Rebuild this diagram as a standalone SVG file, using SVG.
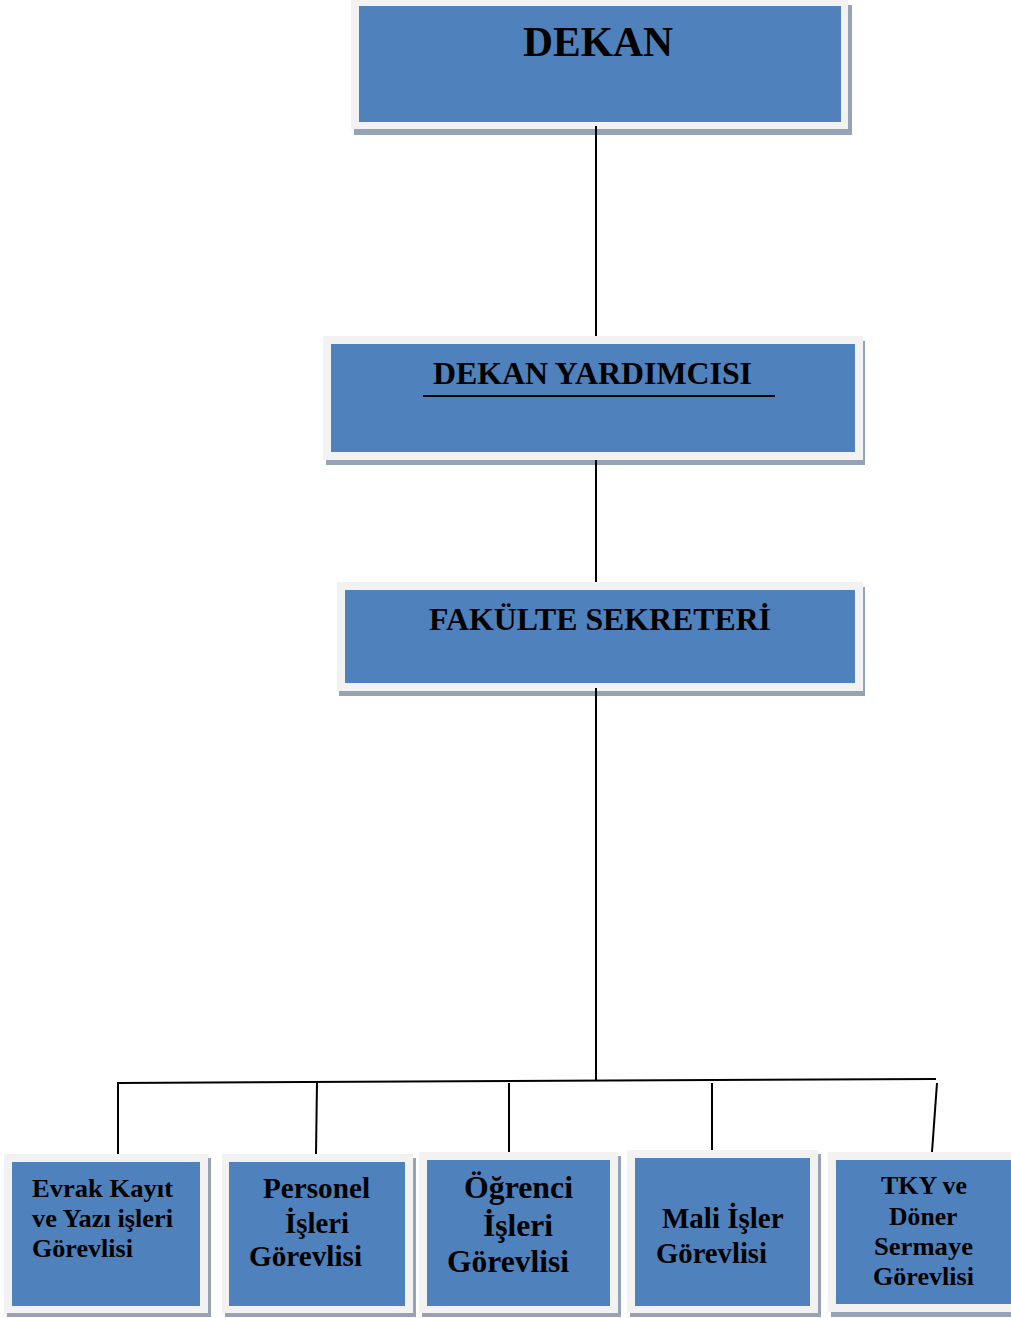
<svg xmlns="http://www.w3.org/2000/svg" width="1011" height="1318" viewBox="0 0 1011 1318">
<style>
.sh{fill:#96a2b6}
.fr{fill:#f2f2f2}
.bl{fill:#4f81bd}
.t{font-family:"Liberation Serif","Times New Roman",serif;font-weight:bold;fill:#000}
.ln{stroke:#000;stroke-width:2;fill:none}
</style>
<rect width="1011" height="1318" fill="#fff"/>
<g id="dekan">
<rect class="sh" x="354" y="5" width="498" height="130"/>
<rect class="fr" x="351" y="0" width="497" height="129"/>
<rect class="bl" x="359" y="6" width="482" height="116"/>
<text class="t" x="523" y="56" font-size="42" textLength="150" lengthAdjust="spacingAndGlyphs">DEKAN</text>
</g>
<g id="dekan-yardimcisi">
<rect class="sh" x="326" y="341" width="539" height="124"/>
<rect class="fr" x="323" y="336" width="540" height="124"/>
<rect class="bl" x="331" y="344" width="524" height="108"/>
<text class="t" x="433" y="384" font-size="32" textLength="319" lengthAdjust="spacingAndGlyphs">DEKAN YARDIMCISI</text>
<line x1="423" y1="396" x2="775" y2="396" stroke="#000" stroke-width="2"/>
</g>
<g id="fakulte-sekreteri">
<rect class="sh" x="339" y="587" width="526" height="109"/>
<rect class="fr" x="337" y="582" width="526" height="109"/>
<rect class="bl" x="345" y="590" width="510" height="93"/>
<text class="t" x="429" y="630" font-size="32" textLength="342" lengthAdjust="spacingAndGlyphs">FAKÜLTE SEKRETERİ</text>
</g>
<g id="evrak">
<rect class="sh" x="7" y="1158" width="204" height="159"/>
<rect class="fr" x="4" y="1154" width="204" height="159"/>
<rect class="bl" x="12" y="1162" width="188" height="144"/>
<text class="t" font-size="26">
<tspan x="32" y="1197" textLength="141" lengthAdjust="spacingAndGlyphs">Evrak Kayıt</tspan>
<tspan x="32" y="1227" textLength="141" lengthAdjust="spacingAndGlyphs">ve Yazı işleri</tspan>
<tspan x="32" y="1257" textLength="101" lengthAdjust="spacingAndGlyphs">Görevlisi</tspan>
</text>
</g>
<g id="personel">
<rect class="sh" x="225" y="1158" width="191" height="159"/>
<rect class="fr" x="222" y="1154" width="191" height="159"/>
<rect class="bl" x="229" y="1162" width="176" height="144"/>
<text class="t" font-size="29">
<tspan x="263" y="1198" textLength="107" lengthAdjust="spacingAndGlyphs">Personel</tspan>
<tspan x="285" y="1233" textLength="64" lengthAdjust="spacingAndGlyphs">İşleri</tspan>
<tspan x="249" y="1266" textLength="113" lengthAdjust="spacingAndGlyphs">Görevlisi</tspan>
</text>
</g>
<g id="ogrenci">
<rect class="sh" x="422" y="1156" width="199" height="161"/>
<rect class="fr" x="419" y="1152" width="199" height="161"/>
<rect class="bl" x="427" y="1160" width="183" height="146"/>
<text class="t" font-size="31">
<tspan x="464" y="1198" textLength="109" lengthAdjust="spacingAndGlyphs">Öğrenci</tspan>
<tspan x="483" y="1236" textLength="70" lengthAdjust="spacingAndGlyphs">İşleri</tspan>
<tspan x="447" y="1272" textLength="122" lengthAdjust="spacingAndGlyphs">Görevlisi</tspan>
</text>
</g>
<g id="mali">
<rect class="sh" x="630" y="1154" width="191" height="163"/>
<rect class="fr" x="627" y="1150" width="191" height="163"/>
<rect class="bl" x="635" y="1158" width="175" height="148"/>
<text class="t" font-size="29">
<tspan x="662" y="1228" textLength="121" lengthAdjust="spacingAndGlyphs">Mali İşler</tspan>
<tspan x="656" y="1263" textLength="111" lengthAdjust="spacingAndGlyphs">Görevlisi</tspan>
</text>
</g>
<g id="tky">
<rect class="sh" x="831" y="1157" width="190" height="160"/>
<rect class="fr" x="828" y="1152" width="190" height="160"/>
<rect class="bl" x="836" y="1160" width="180" height="144"/>
<text class="t" font-size="26">
<tspan x="881" y="1194" textLength="86" lengthAdjust="spacingAndGlyphs">TKY ve</tspan>
<tspan x="889" y="1225" textLength="68" lengthAdjust="spacingAndGlyphs">Döner</tspan>
<tspan x="874" y="1255" textLength="99" lengthAdjust="spacingAndGlyphs">Sermaye</tspan>
<tspan x="873" y="1285" textLength="101" lengthAdjust="spacingAndGlyphs">Görevlisi</tspan>
</text>
</g>
<g id="connectors">
<line class="ln" x1="596" y1="126" x2="596" y2="336"/>
<line class="ln" x1="596" y1="460" x2="596" y2="582"/>
<line class="ln" x1="596" y1="688" x2="596" y2="1080"/>
<line class="ln" x1="118" y1="1083" x2="936" y2="1079"/>
<line class="ln" x1="118" y1="1082" x2="118" y2="1154"/>
<line class="ln" x1="317" y1="1082" x2="316" y2="1154"/>
<line class="ln" x1="509" y1="1083" x2="509" y2="1152"/>
<line class="ln" x1="712" y1="1083" x2="712" y2="1150"/>
<line class="ln" x1="937" y1="1083" x2="932" y2="1152"/>
</g>
</svg>
